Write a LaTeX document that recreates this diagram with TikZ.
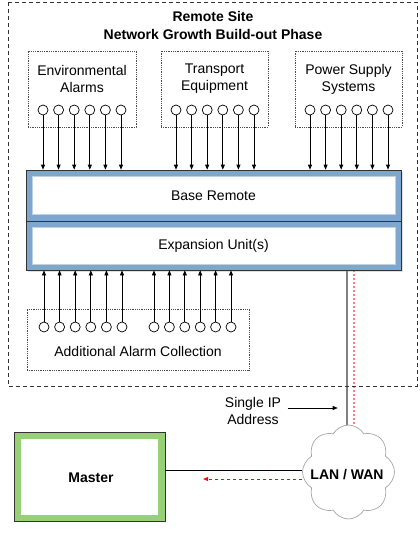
\documentclass[tikz,border=0pt]{standalone}
\usepackage{fontspec}
\setmainfont{Liberation Sans}
\usetikzlibrary{arrows.meta,shapes.symbols,shadows,backgrounds}
\definecolor{unitblue}{RGB}{126,166,206}
\definecolor{mastergreen}{RGB}{151,208,119}
\definecolor{lightred}{RGB}{255,128,128}
\tikzset{
  group/.style={draw=black!70, densely dotted, line width=0.8pt},
  alarm/.style={circle, draw, fill=white, minimum size=10pt, inner sep=0pt, line width=0.7pt},
  unit/.style={fill=unitblue, draw=black!80, line width=0.7pt, drop shadow={opacity=0.25, shadow xshift=1.5pt, shadow yshift=-1.5pt}},
  core/.style={fill=white, draw=unitblue!50!white, line width=0.5pt},
  bold/.style={font=\fontsize{14}{17}\selectfont\bfseries}
}

\begin{document}
\begin{tikzpicture}[x=1pt, y=-1pt, font=\fontsize{14}{17}\selectfont, >={Triangle[length=5pt,width=4pt]}, line width=0.7pt]
  \useasboundingbox (0,0) rectangle (420,538);
  \draw[black!80, dash pattern=on 4pt off 3pt](8, 2) rectangle (417, 386);
  \node[bold, align=center] (title) at (213, 25) {Remote Site\\[1pt]Network Growth Build-out Phase};

  % alarm sources on top
  \node[group, minimum width=108pt, minimum height=76pt] (env) at (82, 89) {};
  \node[group, minimum width=107pt, minimum height=76pt] (trans) at (214.5, 89) {};
  \node[group, minimum width=107pt, minimum height=76pt] (power) at (348.5, 89) {};
  \node[align=center] (envTxt) at (82, 79) {Environmental\\Alarms};
  \node[align=center] (transTxt) at (214.5, 79) {Transport\\Equipment};
  \node[align=center] (powerTxt) at (348.5, 79) {Power Supply\\Systems};

  % base remote + expansion
  \node[unit, minimum width=375pt, minimum height=51pt] (base) at (213.5, 195.5) {};
  \node[unit, minimum width=375pt, minimum height=49pt] (exp) at (213.5, 245.5) {};
  \node[core, minimum width=363pt, minimum height=38pt] (baseTxt) at (base) {Base Remote};
  \node[core, minimum width=363pt, minimum height=37pt] (expTxt) at (exp) {Expansion Unit(s)};

  \foreach \i in {0,...,5} {
    \node[alarm] (e\i) at ({43+15.6*\i}, 110) {};
    \node[alarm] (t\i) at ({176+15.6*\i}, 110) {};
    \node[alarm] (p\i) at ({310+15.6*\i}, 110) {};
    \draw[->] (e\i.south) -- (e\i.south |- base.north);
    \draw[->] (t\i.south) -- (t\i.south |- base.north);
    \draw[->] (p\i.south) -- (p\i.south |- base.north);
  }

  % additional alarms below
  \node[group, minimum width=222pt, minimum height=61pt] (extra) at (138, 339.5) {};
  \node (extraTxt) at (138, 351) {Additional Alarm Collection};
  \foreach \i in {0,...,5} {
    \node[alarm] (a\i) at ({44+15.6*\i}, 327) {};
    \node[alarm] (b\i) at ({154+15.4*\i}, 327) {};
    \draw[->] (a\i.north) -- (a\i.north |- exp.south);
    \draw[->] (b\i.north) -- (b\i.north |- exp.south);
  }

  % network side
  \node[cloud, cloud puffs=8, cloud puff arc=120, aspect=0.95, draw=black!35, fill=white, inner sep=0pt, minimum width=92pt, minimum height=94pt] (net) at (348.5, 472) {};
  \node[bold] (netTxt) at (347, 475) {LAN / WAN};
  \begin{scope}[on background layer]
    \draw[black!50, line width=1.4pt] ([xshift=133.5pt]exp.south) -- ([xshift=133.5pt]exp.south |- net.center);
    \draw[lightred, dash pattern=on 2pt off 2pt, line width=1.2pt] ([xshift=140.5pt]exp.south) -- ([xshift=140.5pt]exp.south |- net.center);
  \end{scope}

  \node[align=center] (ip) at (253, 411) {Single IP\\Address};
  \draw[->, line width=0.6pt] ([shift={(3pt,3pt)}]ip.east) -- ++(50, 0);

  \node[fill=mastergreen, draw=black!80, minimum width=151pt, minimum height=89pt] (master) at (89.5, 476.5) {};
  \node[fill=white, minimum width=137pt, minimum height=76pt] (masterTxt) at (master) {};
  \node[bold] (masterLbl) at (91, 478) {Master};

  \draw ([yshift=6.5pt]master.east) -- ([yshift=6.5pt]master.east -| net.west);
  \draw[red, dashed, ->] ([yshift=-7pt]net.west) -- ++(-99, 0);
\end{tikzpicture}
\end{document}
